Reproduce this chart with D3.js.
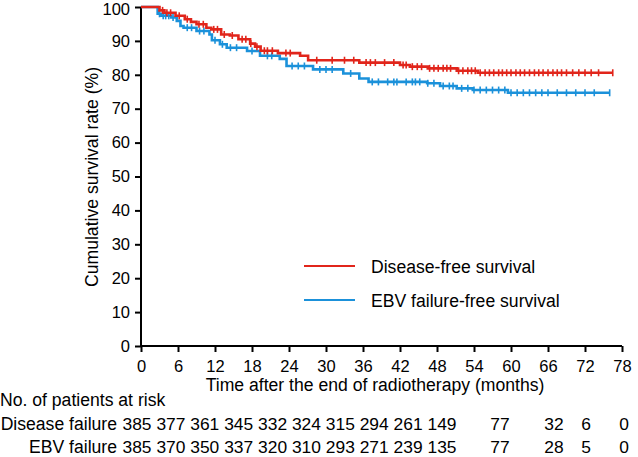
<!DOCTYPE html>
<html><head><meta charset="utf-8">
<script src="https://cdn.jsdelivr.net/npm/d3@7"></script>
<style>
body{margin:0;background:#fff;}
text{font-family:"Liberation Sans",Arial,sans-serif;fill:#000;}
</style></head>
<body><svg id="c" width="638" height="457"></svg>
<script>
// ---------- data ----------
const xTicks = [0,6,12,18,24,30,36,42,48,54,60,66,72,78];
const yTicks = [0,10,20,30,40,50,60,70,80,90,100];

// Disease-free survival: step times (months) and survival (%)
const dfsTimes = [0,3.0,3.8,5.6,7.1,8.1,9.0,10.6,11.4,13.0,14.4,15.8,17.7,18.5,19.4,22.2,25.8,27.1,35.4,42.0,43.6,46.5,51.2,54.6,76.5];
const dfsSurv  = [100,99.0,98.3,97.4,96.4,95.6,94.9,93.9,93.4,91.9,91.6,90.5,89.2,88.3,87.1,86.4,85.6,84.3,83.6,82.9,82.4,81.9,81.2,80.6,80.6];
const dfsCensor = [3.5,4.2,4.8,6.2,7.5,9.4,10.1,11.8,12.4,13.5,14.8,16.4,17.0,17.8,18.8,20.0,20.5,21.3,23.5,24.2,28.5,31,33,34.5,36.5,37.2,38,39.5,41,42.5,43,44,44.8,45.5,46.8,47.5,48.2,49,49.6,50.2,51.5,52.2,53,53.6,54.2,55,55.8,56.5,57.2,58,58.6,59.3,60,60.8,61.5,62.2,63,63.8,64.5,65.2,66,66.8,67.5,68.2,69,70,71,72,73,74.2,76.5];

// EBV failure-free survival
const ebvTimes = [0,2.7,3.3,4.9,5.8,6.4,6.9,9.0,11.1,11.5,12.8,13.9,17.2,19.3,22.5,23.6,27.9,32.8,35.4,36.9,46.4,48.5,51.2,53.8,59.5,76.0];
const ebvSurv  = [100,98.0,97.4,96.9,95.9,94.4,93.9,92.9,91.9,90.2,89.0,88.0,87.0,85.6,84.7,82.6,81.6,80.4,78.9,77.9,77.5,76.7,76.0,75.5,74.7,74.7];
const ebvCensor = [3.0,3.6,4.0,4.5,5.2,7.5,8.2,9.5,10.2,12.0,13.2,14.5,15.5,18.0,20.5,21.2,24.5,25.5,26.5,29,30,31,34,37.5,38.5,40,41,41.5,43,44,44.5,45.2,46.5,47.5,49,50,50.6,52,53,54,55,56,57,58,59,60,61,62,63,64,65,66,67.5,69,70.5,72,73.5,76.0];

// number at risk
const riskTitle = "No. of patients at risk";
const riskLabels = ["Disease failure","EBV failure"];
const riskDisease = [385,377,361,345,332,324,315,294,261,149,77,32,6,0];
const riskEBV     = [385,370,350,337,320,310,293,271,239,135,77,28,5,0];

const colorDFS = "#e1251b";
const colorEBV = "#1b91da";

// ---------- drawing ----------
const svg = d3.select("#c");
const x = d3.scaleLinear().domain([0,78]).range([141,622]);
const y = d3.scaleLinear().domain([0,100]).range([346,7]);
const FS = "17.6px";

// axes
const xAxis = d3.axisBottom(x).tickValues(xTicks).tickSize(6).tickPadding(8).tickFormat(d3.format("d"));
const yAxis = d3.axisLeft(y).tickValues(yTicks).tickSize(6).tickPadding(5).tickFormat(d3.format("d"));
const gx = svg.append("g").attr("transform","translate(0,346)").call(xAxis);
const gy = svg.append("g").attr("transform","translate(141,0)").call(yAxis);
[gx,gy].forEach(g=>{
  g.select(".domain").attr("stroke","#000").attr("stroke-width",2);
  g.selectAll(".tick line").attr("stroke","#000").attr("stroke-width",2);
  g.selectAll(".tick text").style("font-size","16.5px").attr("fill","#000");
});
gx.select(".domain").attr("d",`M${x(0)},0H${x(78)}`);
gy.select(".domain").attr("d",`M0,${y(100)}V${y(0)}`);
gy.selectAll(".tick text").filter(d=>d===100).attr("dy","0.45em");

svg.append("text").attr("x",375).attr("y",391).attr("text-anchor","middle")
  .style("font-size",FS).text("Time after the end of radiotherapy (months)");
svg.append("text").attr("transform","translate(98,177) rotate(-90)").attr("text-anchor","middle")
  .style("font-size",FS).text("Cumulative survival rate (%)");

// step function (value of KM curve at a censor time)
function stepVal(times, surv, t){
  let v = surv[0];
  for(let i=0;i<times.length;i++){ if(times[i]<=t) v = surv[i]; }
  return v;
}
const line = d3.line().x(d=>x(d[0])).y(d=>y(d[1])).curve(d3.curveStepAfter);

function drawCurve(times, surv, censor, color){
  const pts = times.map((t,i)=>[t,surv[i]]);
  svg.append("path").attr("d",line(pts)).attr("fill","none")
    .attr("stroke",color).attr("stroke-width",2.6);
  svg.append("g").selectAll("line").data(censor).join("line")
    .attr("x1",d=>x(d)).attr("x2",d=>x(d))
    .attr("y1",d=>y(stepVal(times,surv,d))-3.5)
    .attr("y2",d=>y(stepVal(times,surv,d))+3.5)
    .attr("stroke",color).attr("stroke-width",1.6);
}
drawCurve(ebvTimes, ebvSurv, ebvCensor, colorEBV);
drawCurve(dfsTimes, dfsSurv, dfsCensor, colorDFS);

// legend
const legend = [{name:"Disease-free survival",color:colorDFS,y:266},{name:"EBV failure-free survival",color:colorEBV,y:300}];
legend.forEach(l=>{
  svg.append("line").attr("x1",304).attr("x2",355).attr("y1",l.y).attr("y2",l.y)
    .attr("stroke",l.color).attr("stroke-width",2);
  svg.append("text").attr("x",371).attr("y",l.y+1).attr("dy","0.35em")
    .style("font-size",FS).text(l.name);
});

// risk table
svg.append("text").attr("x",0).attr("y",400).attr("dy","0.35em").style("font-size",FS).text(riskTitle);
const riskX = d3.scaleLinear().domain([0,9,10,11,12,13]).range([137,442,500,554,586,624]);
[riskDisease,riskEBV].forEach((row,r)=>{
  const yy = 424 + r*23;
  svg.append("text").attr("x",117).attr("y",yy).attr("dy","0.35em").attr("text-anchor","end")
    .style("font-size",FS).text(riskLabels[r]);
  row.forEach((v,i)=>{
    svg.append("text").attr("x",riskX(i)).attr("y",yy).attr("dy","0.35em").attr("text-anchor","middle")
      .style("font-size","17.4px").text(v);
  });
});
</script></body></html>
